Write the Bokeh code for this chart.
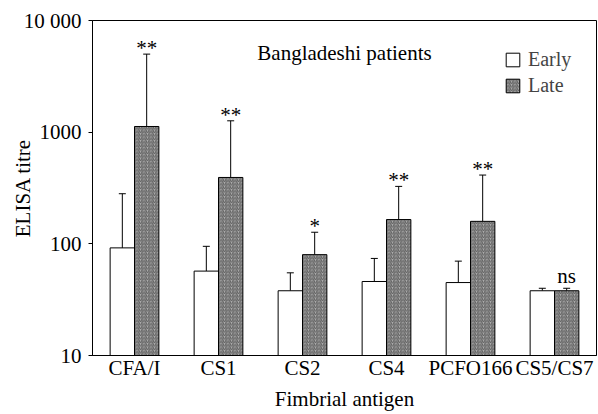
from bokeh.plotting import figure
from bokeh.models import (ColumnDataSource, Range1d, FixedTicker, Whisker, TeeHead,
                          Legend, LegendItem, Label)
from bokeh.embed import file_html
from bokeh.resources import INLINE
from bokeh.core.properties import value

categories = ["CFA/I", "CS1", "CS2", "CS4", "PCFO166", "CS5/CS7"]
early = [92, 57, 38, 46, 45, 38]
early_err = [281, 95, 55, 74, 70, 40]
late = [1124, 393, 80, 165, 159, 38]
late_err = [5000, 1264, 127, 327, 413, 40]
significance = ["**", "**", "*", "**", "**", "ns"]
y_ticks = [10, 100, 1000, 10000]
y_tick_labels = ["10", "100", "1000", "10 000"]

FONT = "Liberation Serif"
FS = "21px"
bw = 0.29
centers = [i + 0.5 for i in range(len(categories))]
x_early = [c - bw / 2 for c in centers]
x_late = [c + bw / 2 for c in centers]
bottoms = [10] * len(categories)

src_e = ColumnDataSource(dict(x=x_early, top=early, bottom=bottoms, err=early_err))
src_l = ColumnDataSource(dict(x=x_late, top=late, bottom=bottoms, err=late_err,
                              sig=significance,
                              yoff=[-12 if s == "ns" else -6 for s in significance]))

p = figure(width=597, height=414, output_backend="svg", toolbar_location=None,
           x_range=Range1d(0, 6), y_range=Range1d(10, 10000), y_axis_type="log",
           min_border_left=92, min_border_right=1, min_border_top=20, min_border_bottom=59)

p.outline_line_color = "black"
p.outline_line_width = 1
p.xgrid.visible = False
p.ygrid.visible = False
p.background_fill_color = "white"
p.border_fill_color = "white"

re = p.vbar(x="x", top="top", bottom="bottom", width=bw, source=src_e,
            fill_color="white", line_color="black", line_width=1)
rl = p.vbar(x="x", top="top", bottom="bottom", width=bw, source=src_l,
            fill_color="#b0b0b0", line_color="black", line_width=1,
            hatch_pattern="/", hatch_color="#5e5e5e", hatch_scale=3.5, hatch_weight=1.1)

for src in (src_e, src_l):
    w = Whisker(source=src, base="x", lower="top", upper="err", dimension="height",
                line_color="black", line_width=1,
                upper_head=TeeHead(size=7, line_color="black", line_width=1),
                lower_head=None, level="underlay")
    p.add_layout(w)

p.text(x="x", y="err", text="sig", source=src_l, text_align="center",
       text_baseline="alphabetic", y_offset="yoff",
       text_font=value(FONT), text_font_size=FS, text_color="black")

# axes
p.yaxis.ticker = FixedTicker(ticks=y_ticks)
p.yaxis.major_label_overrides = {t: l for t, l in zip(y_ticks, y_tick_labels)}
p.yaxis.minor_tick_line_color = None
p.yaxis.major_tick_out = 4
p.yaxis.major_tick_in = 0
p.yaxis.major_label_standoff = 7
p.yaxis.axis_label = "ELISA titre"
p.yaxis.axis_label_standoff = -14

p.xaxis.ticker = FixedTicker(ticks=centers)
p.xaxis.major_label_overrides = {c: n for c, n in zip(centers, categories)}
p.xaxis.major_tick_line_color = None
p.xaxis.minor_tick_line_color = None
p.xaxis.major_tick_out = 0
p.xaxis.major_label_standoff = 0
p.xaxis.axis_label = "Fimbrial antigen"
p.xaxis.axis_label_standoff = 4

for ax in (p.xaxis, p.yaxis):
    ax.axis_line_color = "black"
    ax.major_label_text_font = FONT
    ax.major_label_text_font_size = FS
    ax.major_label_text_color = "black"
    ax.axis_label_text_font = FONT
    ax.axis_label_text_font_size = FS
    ax.axis_label_text_font_style = "normal"
    ax.axis_label_text_color = "black"

p.add_layout(Label(x=3, y=5100, text="Bangladeshi patients", text_align="center",
                   text_baseline="middle", text_font=FONT, text_font_size=FS,
                   text_color="black"))

legend = Legend(items=[LegendItem(label="Early", renderers=[re]),
                       LegendItem(label="Late", renderers=[rl])],
                location=(412, 258), glyph_width=17, glyph_height=17,
                label_height=17, spacing=3, padding=0, margin=0,
                label_standoff=7, border_line_alpha=0, background_fill_alpha=0,
                label_text_font=FONT, label_text_font_size="20px")
p.add_layout(legend)

open("out.html", "w").write(file_html(p, INLINE))
